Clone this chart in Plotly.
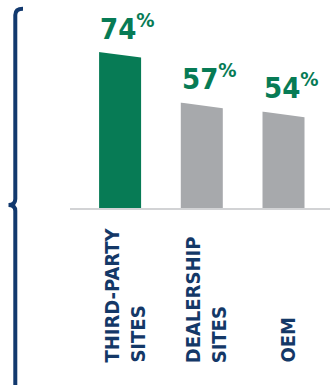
import plotly.graph_objects as go

# ---- data ----
categories = ["THIRD-PARTY<br>SITES", "DEALERSHIP<br>SITES", "OEM"]
values = [74, 57, 54]
value_labels = ["74", "57", "54"]
bar_colors = ["#077B55", "#A7A9AC", "#A7A9AC"]

# ---- styling constants ----
W, H = 330, 385
ML, MR, MT, MB = 70, 0, 20, 177
PW, PH = W - ML - MR, H - MT - MB
NAVY = "#143867"
GREEN = "#077B55"
FONT = "DejaVu Sans Condensed, DejaVu Sans, sans-serif"
BAR_W = 0.514
SLANT = 2.0          # top-edge slant, in value units
Y0, Y1 = 22.6, 22.6 + PH / 2.984
X0, X1 = -0.613, 2.569

xs = list(range(len(categories)))

fig = go.Figure()
fig.add_trace(go.Bar(
    x=xs, y=[v + SLANT / 2 for v in values], width=BAR_W,
    marker=dict(color=bar_colors, line=dict(width=0)),
    hoverinfo="skip", showlegend=False))

# white wedges that give each bar its slanted top
for x, v in zip(xs, values):
    l, r = x - BAR_W / 2 - 0.03, x + BAR_W / 2 + 0.03
    top = v + SLANT / 2 + 1.0
    fig.add_trace(go.Scatter(
        x=[l, r, r, x + BAR_W / 2, l, l],
        y=[top, top, v - SLANT / 2, v - SLANT / 2, v + SLANT / 2, top],
        fill="toself", fillcolor="white", mode="none",
        hoverinfo="skip", showlegend=False))

annotations = []
for x, v, t in zip(xs, values, value_labels):
    annotations.append(dict(
        x=x - BAR_W / 2, y=v + SLANT / 2, xref="x", yref="y",
        xanchor="left", yanchor="bottom", yshift=4, xshift=-1,
        text=f"{t}<sup>%</sup>", showarrow=False,
        font=dict(family=FONT, size=29, color=GREEN, weight="bold")))
for x, c in zip(xs, categories):
    annotations.append(dict(
        x=x, y=0, xref="x", yref="paper", xanchor="center", yanchor="bottom",
        yshift=-157, xshift=4, textangle=-90, align="left",
        text=c, showarrow=False,
        font=dict(family=FONT, size=20, color=NAVY, weight="bold")))


def px(xp, yp):
    return (xp - ML) / PW, (MT + PH - yp) / PH


def P(xp, yp):
    a, b = px(xp, yp)
    return f"{a:.4f},{b:.4f}"


brace = (f"M {P(23, 8.7)} Q {P(15.3, 8.7)} {P(15.3, 15)} L {P(15.3, 199)} "
         f"Q {P(15.3, 205)} {P(8.5, 205)} Q {P(15.3, 205)} {P(15.3, 211)} "
         f"L {P(15.3, 395)}")

fig.update_layout(
    width=W, height=H,
    margin=dict(l=ML, r=MR, t=MT, b=MB, pad=0),
    paper_bgcolor="white", plot_bgcolor="white",
    xaxis=dict(range=[X0, X1], showgrid=False, zeroline=False,
               showticklabels=False, ticks="", showline=True,
               linecolor="#D2D3D5", linewidth=2, fixedrange=True),
    yaxis=dict(range=[Y0, Y1], visible=False, fixedrange=True),
    annotations=annotations,
    shapes=[dict(type="path", path=brace, xref="paper", yref="paper",
                 line=dict(color="#12396E", width=4))],
    showlegend=False,
)

fig.write_html("out.html", config={"displayModeBar": False})
